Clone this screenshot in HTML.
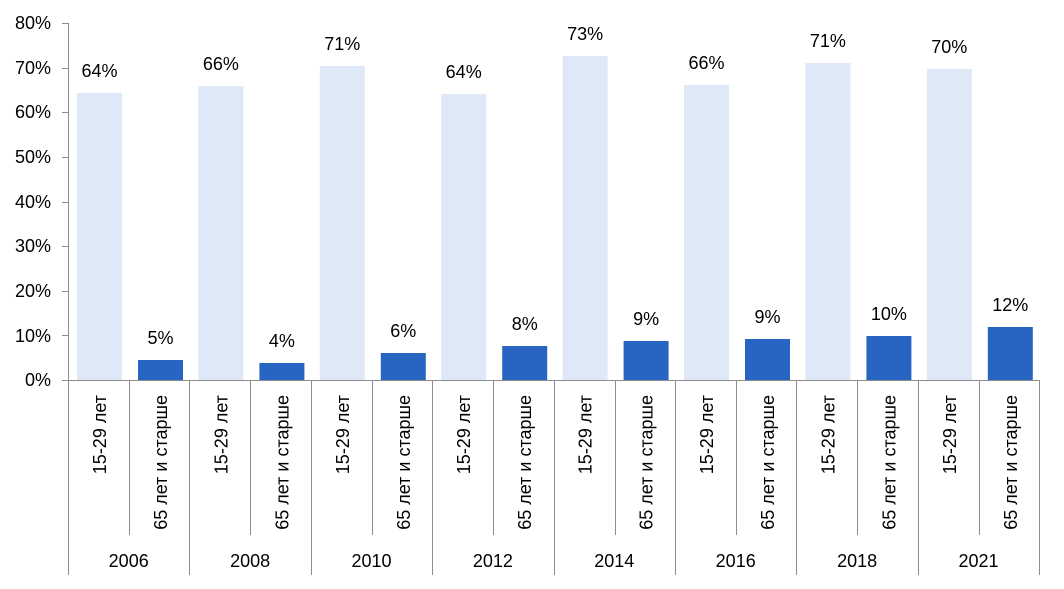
<!DOCTYPE html>
<html><head><meta charset="utf-8"><style>
body{margin:0;background:#fff}
svg text{font-family:"Liberation Sans",sans-serif;fill:#000}
</style></head><body>
<svg width="1064" height="584" xmlns="http://www.w3.org/2000/svg">
<g font-size="18" text-anchor="end">
<text x="51" y="29">80%</text><text x="51" y="74">70%</text><text x="51" y="118">60%</text><text x="51" y="163">50%</text><text x="51" y="208">40%</text><text x="51" y="252">30%</text><text x="51" y="297">20%</text><text x="51" y="342">10%</text><text x="51" y="386">0%</text>
</g>
<g stroke="#8c8c8c" stroke-width="1">
<line x1="68.5" y1="23" x2="68.5" y2="575"/>
<line x1="62" y1="23.5" x2="68" y2="23.5"/><line x1="62" y1="68.5" x2="68" y2="68.5"/><line x1="62" y1="112.5" x2="68" y2="112.5"/><line x1="62" y1="157.5" x2="68" y2="157.5"/><line x1="62" y1="202.5" x2="68" y2="202.5"/><line x1="62" y1="246.5" x2="68" y2="246.5"/><line x1="62" y1="291.5" x2="68" y2="291.5"/><line x1="62" y1="335.5" x2="68" y2="335.5"/>
</g>
<g id="bars"></g>
<line x1="62" y1="380.5" x2="1040" y2="380.5" stroke="#8c8c8c"/>
<g id="cats"></g>
</svg>
<script>
const light=[93,86,66,94,56,85,63,69],dark=[360,363,353,346,341,339,336,327];
const lv=["64%","66%","71%","64%","73%","66%","71%","70%"],dv=["5%","4%","6%","8%","9%","9%","10%","12%"];
const yrs=["2006","2008","2010","2012","2014","2016","2018","2021"];
let b="",c="";
for(let i=0;i<8;i++){const x0=68+i*121.4;
b+=`<rect x="${x0+9}" y="${light[i]}" width="45" height="${380-light[i]}" fill="#dfe8f7"/>`;
b+=`<rect x="${x0+70}" y="${dark[i]}" width="45" height="${380-dark[i]}" fill="#2864c2"/>`;
b+=`<text x="${x0+31.5}" y="${light[i]-16}" font-size="18" text-anchor="middle">${lv[i]}</text>`;
b+=`<text x="${x0+92.5}" y="${dark[i]-16}" font-size="18" text-anchor="middle">${dv[i]}</text>`;
const xe=x0+121.4;
c+=`<line x1="${Math.round(xe)+0.5}" y1="380" x2="${Math.round(xe)+0.5}" y2="575" stroke="#8c8c8c"/>`;
c+=`<line x1="${Math.round(x0+61)+0.5}" y1="380" x2="${Math.round(x0+61)+0.5}" y2="535" stroke="#8c8c8c"/>`;
c+=`<text transform="translate(${x0+38},395) rotate(-90)" font-size="18" text-anchor="end">15-29 лет</text>`;
c+=`<text transform="translate(${x0+99},395) rotate(-90)" font-size="18" text-anchor="end">65 лет и старше</text>`;
c+=`<text x="${x0+60.7}" y="567" font-size="18" text-anchor="middle">${yrs[i]}</text>`;
}
document.getElementById("bars").innerHTML=b;document.getElementById("cats").innerHTML=c;
</script>
</body></html>
